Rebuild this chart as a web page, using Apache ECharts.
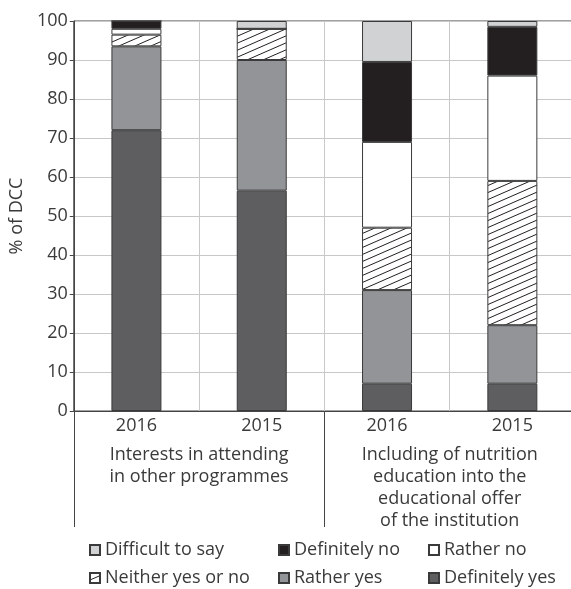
<!DOCTYPE html>
<html>
<head>
<meta charset="utf-8">
<script src="https://cdn.jsdelivr.net/npm/echarts@6/dist/echarts.min.js"></script>
<style>
html,body{margin:0;padding:0;background:#fff;overflow:hidden;width:571px;height:589px;}
#chart{width:575px;height:589px;}
</style>
</head>
<body>
<div id="chart"></div>
<script>
// ---- data ----
const categories = ['2016', '2015', '2016', '2015'];
const groups = ['Interests in attending\nin other programmes', 'Including of nutrition\neducation into the\neducational offer\nof the institution'];
const definitelyYes = [72, 56.5, 7, 7];
const ratherYes = [21.5, 33.5, 24, 15];
const neither = [3, 8, 16, 37];
const ratherNo = [1.5, 0, 22, 27];
const definitelyNo = [2, 0, 20.5, 12.5];
const difficult = [0, 2, 10.5, 1.5];
const yTicks = [0, 10, 20, 30, 40, 50, 60, 70, 80, 90, 100];

// ---- hatch pattern ----
function makeHatch() {
  const W = 16, H = 7;
  const c = document.createElement('canvas');
  c.width = W; c.height = H;
  const g = c.getContext('2d');
  g.fillStyle = '#ffffff';
  g.fillRect(0, 0, W, H);
  g.strokeStyle = '#231f20';
  g.lineWidth = 1;
  for (const dy of [-H, 0, H]) {
    g.beginPath();
    g.moveTo(-W, 2 * H + dy);
    g.lineTo(2 * W, -H + dy);
    g.stroke();
  }
  return c;
}
const hatch = { image: makeHatch(), repeat: 'repeat' };

const FONT = '"Open Sans", sans-serif';
const TXT = '#3a3a3a';
const border = { borderColor: '#3a3a3a', borderWidth: 1 };

function s(name, data, color) {
  return {
    name, type: 'bar', stack: 'all', data, barWidth: 50,
    itemStyle: Object.assign({ color }, border),
    emphasis: { disabled: true }
  };
}

const chart = echarts.init(document.getElementById('chart'), null, { renderer: 'canvas' });
const legendText = { fontFamily: FONT, fontSize: 18, color: TXT, lineHeight: 20 };
const legendBase = {
  orient: 'vertical', top: 540, icon: 'rect', itemWidth: 10, itemHeight: 10,
  itemGap: 8, textStyle: legendText, selectedMode: false, padding: 0
};

chart.setOption({
  animation: false,
  textStyle: { fontFamily: FONT },
  grid: { left: 71, right: 0, top: 21, bottom: 178, show: true, borderColor: '#444', borderWidth: 1, backgroundColor: 'transparent' },
  legend: [
    Object.assign({ left: 89, data: ['Difficult to say', 'Neither yes or no'] }, legendBase),
    Object.assign({ left: 278, data: ['Definitely no', 'Rather yes'] }, legendBase),
    Object.assign({ left: 428, data: ['Rather no', 'Definitely yes'] }, legendBase)
  ],
  xAxis: [
    {
      type: 'category', data: categories, position: 'bottom',
      axisLine: { show: true, lineStyle: { color: '#444', width: 1 } },
      axisTick: { show: false },
      axisLabel: { fontFamily: FONT, fontSize: 18, color: TXT, margin: 5, lineHeight: 20 },
      splitLine: { show: true, interval: 0, lineStyle: { color: '#c8c8c8', width: 1 } }
    },
    {
      type: 'category', data: groups, position: 'bottom',
      axisLine: { show: false },
      axisTick: { show: true, length: 116, interval: 0, lineStyle: { color: '#444', width: 1 } },
      axisLabel: { fontFamily: FONT, fontSize: 18, color: TXT, margin: 33, lineHeight: 22, interval: 0 },
      splitLine: { show: false }
    }
  ],
  yAxis: {
    type: 'value', min: yTicks[0], max: yTicks[yTicks.length - 1], interval: 10,
    name: '% of DCC', nameLocation: 'middle', nameGap: 40, nameRotate: 90,
    nameTextStyle: { fontFamily: FONT, fontSize: 18, color: TXT },
    axisLine: { show: true, lineStyle: { color: '#444', width: 1 } },
    axisTick: { show: true, length: 4, lineStyle: { color: '#444' } },
    axisLabel: { fontFamily: FONT, fontSize: 18, color: TXT, margin: 6 },
    splitLine: { show: true, lineStyle: { color: '#c8c8c8', width: 1 } }
  },
  series: [
    s('Definitely yes', definitelyYes, '#5e5e60'),
    s('Rather yes', ratherYes, '#929497'),
    s('Neither yes or no', neither, hatch),
    s('Rather no', ratherNo, '#ffffff'),
    s('Definitely no', definitelyNo, '#231f20'),
    s('Difficult to say', difficult, '#d1d2d4')
  ]
});
</script>
</body>
</html>
